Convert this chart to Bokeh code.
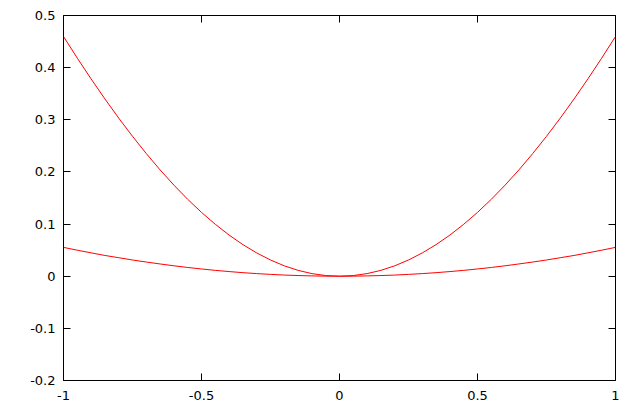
from bokeh.plotting import figure
from bokeh.models import LinearAxis, FixedTicker, Range1d
from bokeh.embed import file_html
from bokeh.resources import INLINE

x_vals = [-1.0, -0.95, -0.9, -0.85, -0.8, -0.75, -0.7, -0.65, -0.6, -0.55, -0.5,
          -0.45, -0.4, -0.35, -0.3, -0.25, -0.2, -0.15, -0.1, -0.05, 0.0,
          0.05, 0.1, 0.15, 0.2, 0.25, 0.3, 0.35, 0.4, 0.45, 0.5,
          0.55, 0.6, 0.65, 0.7, 0.75, 0.8, 0.85, 0.9, 0.95, 1.0]
upper_vals = [0.4597, 0.4183, 0.3784, 0.3400, 0.3033, 0.2683, 0.2352, 0.2039, 0.1747, 0.1475, 0.1224,
              0.0996, 0.0789, 0.0606, 0.0447, 0.0311, 0.0199, 0.0112, 0.0050, 0.0013, 0.0,
              0.0013, 0.0050, 0.0112, 0.0199, 0.0311, 0.0447, 0.0606, 0.0789, 0.0996, 0.1224,
              0.1475, 0.1747, 0.2039, 0.2352, 0.2683, 0.3033, 0.3400, 0.3784, 0.4183, 0.4597]
lower_vals = [0.0553, 0.0499, 0.0448, 0.0398, 0.0355, 0.0311, 0.0272, 0.0235, 0.0200, 0.0168, 0.0139,
              0.0112, 0.0089, 0.0068, 0.0050, 0.0035, 0.0022, 0.0013, 0.0006, 0.0001, 0.0,
              0.0001, 0.0006, 0.0013, 0.0022, 0.0035, 0.0050, 0.0068, 0.0089, 0.0112, 0.0139,
              0.0168, 0.0200, 0.0235, 0.0272, 0.0311, 0.0355, 0.0398, 0.0448, 0.0499, 0.0553]
x_ticks = [-1, -0.5, 0, 0.5, 1]
x_tick_labels = ["-1", "-0.5", "0", "0.5", "1"]
y_ticks = [-0.2, -0.1, 0, 0.1, 0.2, 0.3, 0.4, 0.5]
y_tick_labels = ["-0.2", "-0.1", "0", "0.1", "0.2", "0.3", "0.4", "0.5"]

FONT = "DejaVu Sans"

p = figure(width=622, height=402, output_backend="svg", toolbar_location=None,
           x_range=Range1d(-1, 1), y_range=Range1d(-0.2, 0.5),
           x_axis_location=None, y_axis_location=None,
           min_border_left=63, min_border_right=7, min_border_top=15, min_border_bottom=22)
p.grid.visible = False
p.outline_line_color = "black"
p.outline_line_width = 1
p.background_fill_color = "white"
p.border_fill_color = "white"


def make_axis(ticks, labels, show_labels, standoff):
    ax = LinearAxis(ticker=FixedTicker(ticks=ticks))
    if show_labels:
        ax.major_label_overrides = {t: l for t, l in zip(ticks, labels)}
    else:
        ax.major_label_overrides = {t: "" for t in ticks}
    ax.axis_line_color = None
    ax.major_tick_in = 7
    ax.major_tick_out = 0
    ax.major_tick_line_color = "black"
    ax.minor_tick_line_color = None
    ax.major_label_text_font = FONT
    ax.major_label_text_font_size = "13px"
    ax.major_label_text_color = "black"
    ax.major_label_standoff = standoff
    return ax


p.add_layout(make_axis(x_ticks, x_tick_labels, True, 10), "below")
p.add_layout(make_axis(y_ticks, y_tick_labels, True, 8), "left")
p.add_layout(make_axis(x_ticks, x_tick_labels, False, 0), "above")
p.add_layout(make_axis(y_ticks, y_tick_labels, False, 0), "right")

p.line(x_vals, upper_vals, line_color="#ff0000", line_width=1)
p.line(x_vals, lower_vals, line_color="#ff0000", line_width=1)

open("out.html", "w").write(file_html(p, INLINE))
